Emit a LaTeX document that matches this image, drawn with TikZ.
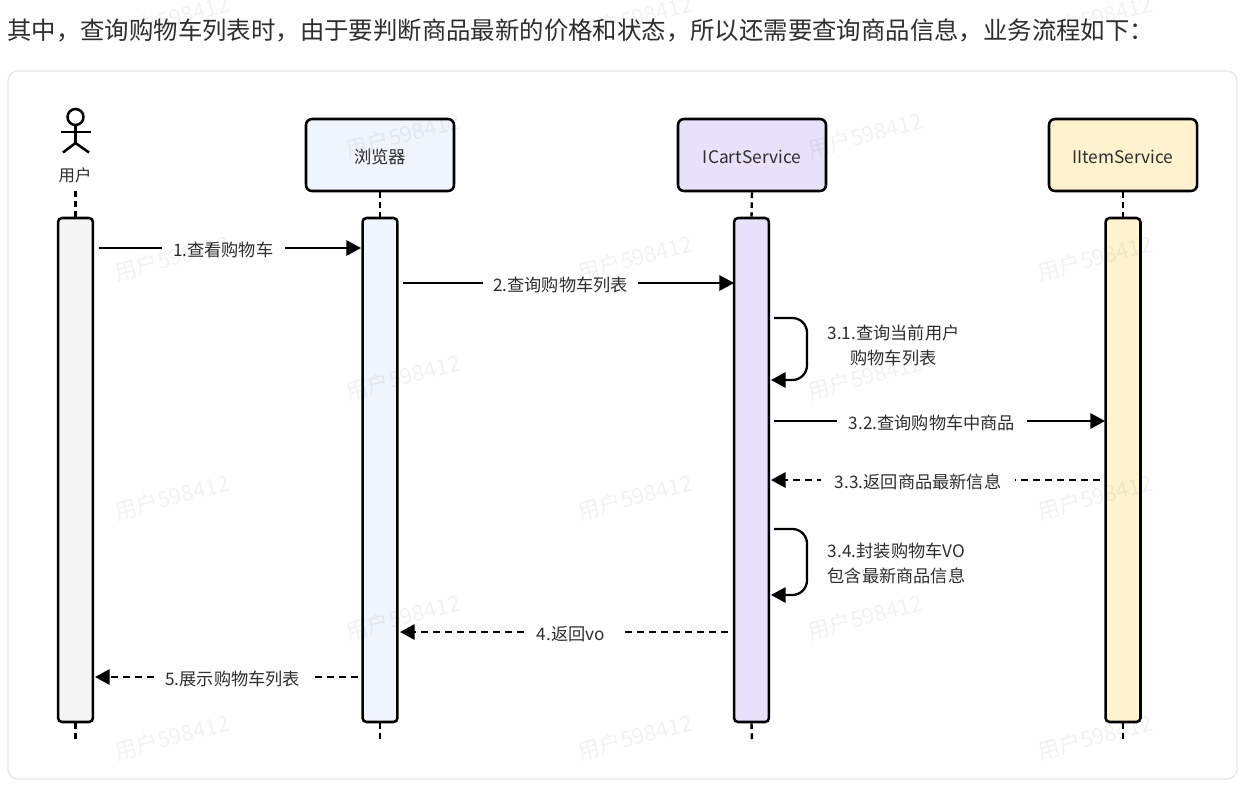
\documentclass[tikz,border=0pt]{standalone}
\usepackage{fontspec}
\setmainfont{Noto Sans CJK SC}
\usetikzlibrary{arrows.meta}
\definecolor{ink}{HTML}{000000}
\definecolor{txt}{HTML}{2E2E2E}
\definecolor{framec}{HTML}{E6E6E6}
\definecolor{greyf}{HTML}{F5F5F5}
\definecolor{bluef}{HTML}{EFF4FD}
\definecolor{purpf}{HTML}{E8E1FC}
\definecolor{yellf}{HTML}{FFF2CF}
\tikzset{
 x=0.75pt,y=-0.75pt,
 hdr/.style={draw=ink,line width=1.9pt,rounded corners=4.5pt,minimum width=111pt,minimum height=54pt,inner sep=0pt,font=\fontsize{13}{15}\selectfont,text=txt,text height=13pt,text depth=0.8pt},
 act/.style={draw=ink,line width=1.9pt,rounded corners=3pt,minimum width=26.2pt,minimum height=378pt,inner sep=0pt},
 life/.style={draw=ink,line width=1.8pt,dash pattern=on 4.3pt off 3.2pt},
 msg/.style={draw=ink,line width=1.7pt,-{Triangle[length=11pt,width=11.5pt]}},
 ret/.style={msg,dash pattern=on 5.4pt off 3.6pt},
 lab/.style={fill=white,font=\fontsize{12.9}{18.6}\selectfont,text=txt,inner sep=0pt,text height=13pt,text depth=0.8pt},
 note/.style={font=\fontsize{12.9}{18.6}\selectfont,text=txt,inner sep=0pt,align=center},
 wm/.style={font=\fontsize{16.5}{20}\selectfont,text=black,opacity=0.05,rotate=15,inner sep=0pt},
 stick/.style={draw=ink,line width=1.9pt},
}
\begin{document}
\begin{tikzpicture}
\useasboundingbox (0,0) rectangle (1252,793);
\fill[white] (0,0) rectangle (1252,793);
\node[anchor=west,inner sep=0pt,font=\fontsize{18.3}{22}\selectfont,text=txt] (intro) at (7,30) {其中，查询购物车列表时，由于要判断商品最新的价格和状态，所以还需要查询商品信息，业务流程如下：};
\draw[framec,line width=0.9pt,fill=white,rounded corners=7.5pt] (8,71) rectangle (1237,779);

% actor
\node[draw=ink,line width=1.9pt,circle,minimum size=12pt,inner sep=0pt] (head) at (75.5,117) {};
\coordinate (hip) at (75.5,143);
\coordinate (armL) at (61,132);
\coordinate (armR) at (90.5,132);
\coordinate (legL) at (63,152.5);
\coordinate (legR) at (89,152.5);
\draw[stick] (head.south) -- (hip);
\draw[stick] (armL) -- (armR);
\draw[stick,line join=round] (legL) -- (hip) -- (legR);
\node[font=\fontsize{12.3}{15}\selectfont,text=txt,inner sep=0pt] (user) at (75,175) {用户};

% headers
\node[hdr,fill=bluef] (browser) at (380,155) {浏览器};
\node[hdr,fill=purpf] (cart) at (752,155) {ICartService};
\node[hdr,fill=yellf] (item) at (1123,155) {IItemService};

% lifeline ends
\coordinate (uTop) at (75.5,191);
\coordinate (uEnd) at (75.5,739);
\coordinate (bEnd) at (380,741);
\coordinate (cEnd) at (752,741);
\coordinate (iEnd) at (1123,741);

% activations
\node[act,fill=greyf] (aU) at (75.5,470) {};
\node[act,fill=bluef] (aB) at (380,470) {};
\node[act,fill=purpf] (aC) at (751.5,470) {};
\node[act,fill=yellf] (aI) at (1123,470) {};

\draw[life] (uTop) -- (aU.north);
\draw[life] (browser.south) -- (aB.north);
\draw[life] (cart.south) -- (aC.north);
\draw[life] (item.south) -- (aI.north);
\draw[life] (aU.south) -- (uEnd);
\draw[life] (aB.south) -- (bEnd);
\draw[life] (aC.south) -- (cEnd);
\draw[life] (aI.south) -- (iEnd);

% message end points
\coordinate (m1a) at (99,248);   \coordinate (m1b) at (361,248);
\coordinate (m2a) at (403,283);  \coordinate (m2b) at (734,283);
\coordinate (m31a) at (774,318); \coordinate (m31c) at (807,318); \coordinate (m31d) at (807,380); \coordinate (m31b) at (771,380);
\coordinate (m32a) at (774,421); \coordinate (m32b) at (1105,421);
\coordinate (m33a) at (1100,480);\coordinate (m33b) at (771,480);
\coordinate (m34a) at (774,529); \coordinate (m34c) at (807,529); \coordinate (m34d) at (807,595); \coordinate (m34b) at (771,595);
\coordinate (m4a) at (728,632);  \coordinate (m4b) at (400,632);
\coordinate (m5a) at (358,677);  \coordinate (m5b) at (95,677);

\draw[msg] (m1a) -- node[lab,pos=0.474,minimum width=92pt] (l1) {1.查看购物车} (m1b);
\draw[msg] (m2a) -- node[lab,pos=0.476,minimum width=116pt] (l2) {2.查询购物车列表} (m2b);
\draw[msg,rounded corners=11pt] (m31a) -- (m31c) -- (m31d) -- (m31b);
\node[note] (l31) at (893.5,345.5) {3.1.查询当前用户\\购物车列表};
\draw[msg] (m32a) -- node[lab,pos=0.477,minimum width=142pt] (l32) {3.2.查询购物车中商品} (m32b);
\draw[ret] (m33a) -- node[lab,pos=0.553,minimum width=145.5pt] (l33) {3.3.返回商品最新信息} (m33b);
\draw[msg,rounded corners=11pt] (m34a) -- (m34c) -- (m34d) -- (m34b);
\node[note] (l34) at (896.5,563.5) {3.4.封装购物车VO\\包含最新商品信息};
\draw[ret] (m4a) -- node[lab,pos=0.463,minimum width=73.5pt] (l4) {4.返回vo\kern8pt} (m4b);
\draw[ret] (m5a) -- node[lab,pos=0.476,minimum width=118pt] (l5) {5.展示购物车列表} (m5b);

% watermarks
\node[wm] (w1) at (635,18) {用户598412};
\node[wm] (w2) at (172,18) {用户598412};
\node[wm] (w3) at (1095,18) {用户598412};
\node[wm] (w4) at (403,135) {用户598412};
\node[wm] (w5) at (865,135) {用户598412};
\node[wm] (w6) at (172,258) {用户598412};
\node[wm] (w7) at (635,258) {用户598412};
\node[wm] (w8) at (1095,258) {用户598412};
\node[wm] (w9) at (403,377) {用户598412};
\node[wm] (w10) at (865,377) {用户598412};
\node[wm] (w11) at (172,497) {用户598412};
\node[wm] (w12) at (635,497) {用户598412};
\node[wm] (w13) at (1095,497) {用户598412};
\node[wm] (w14) at (403,617) {用户598412};
\node[wm] (w15) at (865,617) {用户598412};
\node[wm] (w16) at (172,737) {用户598412};
\node[wm] (w17) at (635,737) {用户598412};
\node[wm] (w18) at (1095,737) {用户598412};
\end{tikzpicture}
\end{document}
